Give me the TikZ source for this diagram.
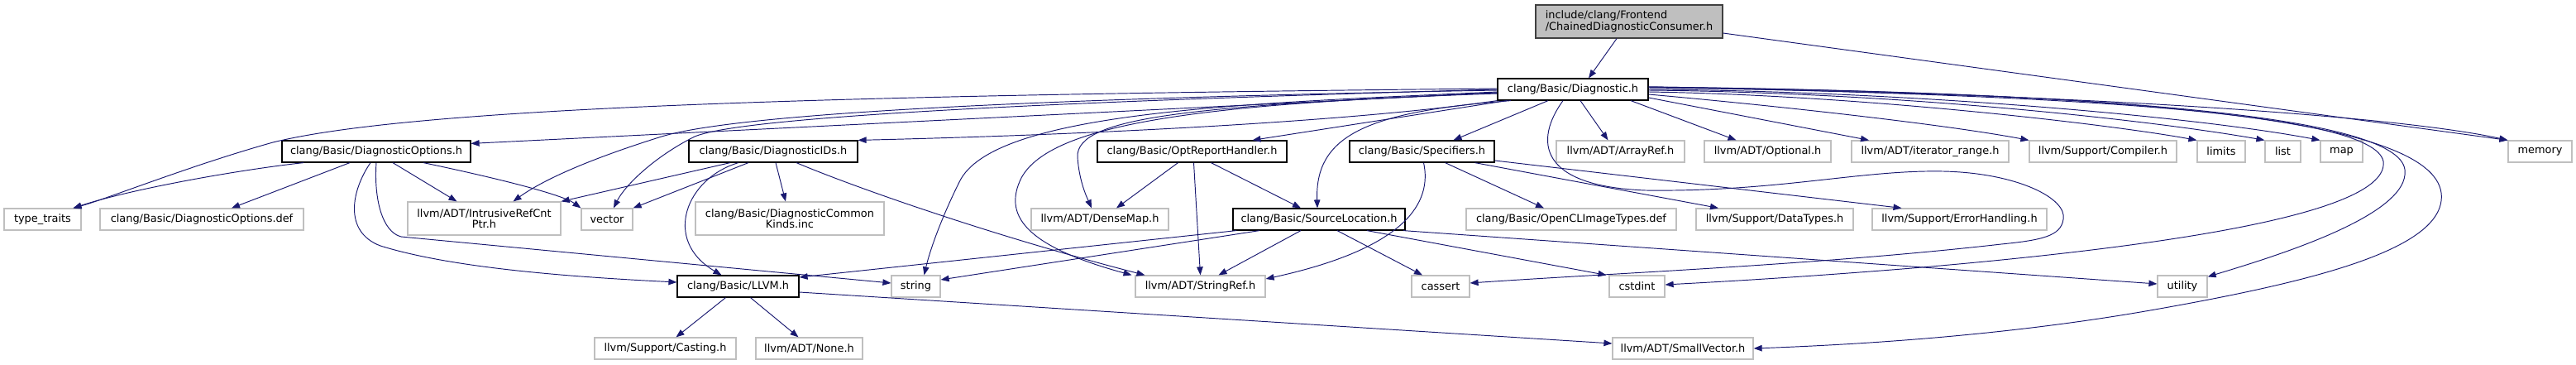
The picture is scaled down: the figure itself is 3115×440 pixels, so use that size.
\documentclass[tikz,border=0pt]{standalone}
\usepackage{fontspec}
\setmainfont{DejaVu Sans}
\usepackage{xcolor}
\usetikzlibrary{arrows.meta}
\definecolor{edgeblue}{HTML}{191970}
\definecolor{boxgray}{HTML}{BFBFBF}
\definecolor{darkborder}{HTML}{404040}
\tikzset{
every node/.style={font=\fontsize{12.9}{13.5}\selectfont, inner xsep=2pt, inner ysep=0pt, minimum height=26pt},
mainnode/.style={draw=darkborder, fill=boxgray, line width=1.2pt, minimum height=40pt},
localnode/.style={draw=black, fill=white, line width=1.2pt},
extnode/.style={draw=boxgray, fill=white, line width=1.2pt},
dep/.style={draw=edgeblue, line width=0.95pt, -{Triangle[length=10pt,width=7.5pt]}}
}

\begin{document}
\begin{tikzpicture}[x=1pt,y=-1pt]
\useasboundingbox (0,0) rectangle (3115,440);
\node[mainnode, minimum width=226pt, align=left] (main) at (1970,26) {include/clang/Frontend\\/ChainedDiagnosticConsumer.h};
\node[localnode, minimum width=182pt] (diag) at (1902,108) {clang/Basic/Diagnostic.h};

\node[localnode, minimum width=228pt] (dopt) at (455,183) {clang/Basic/DiagnosticOptions.h};
\node[localnode, minimum width=204pt] (dids) at (935,183) {clang/Basic/DiagnosticIDs.h};
\node[localnode, minimum width=229pt] (optrep) at (1441.5,183) {clang/Basic/OptReportHandler.h};
\node[localnode, minimum width=175pt] (spec) at (1719.5,183) {clang/Basic/Specifiers.h};
\node[extnode, minimum width=155pt] (arrayref) at (1959.5,183) {llvm/ADT/ArrayRef.h};
\node[extnode, minimum width=153pt] (optional) at (2137.5,183) {llvm/ADT/Optional.h};
\node[extnode, minimum width=190pt] (iterrange) at (2334,183) {llvm/ADT/iterator\_range.h};
\node[extnode, minimum width=178pt] (compiler) at (2543,183) {llvm/Support/Compiler.h};
\node[extnode, minimum width=58pt] (limits) at (2686,183) {limits};
\node[extnode, minimum width=43pt] (list) at (2760.5,183) {list};
\node[extnode, minimum width=51pt] (map) at (2831.5,183) {map};
\node[extnode, minimum width=77pt] (memory) at (3071.5,183) {memory};

\node[extnode, minimum width=93pt] (tt) at (51.5,265) {type\_traits};
\node[extnode, minimum width=246pt] (doptdef) at (244,265) {clang/Basic/DiagnosticOptions.def};
\node[extnode, minimum width=185pt, minimum height=40pt, align=center] (irc) at (585.5,264) {llvm/ADT/IntrusiveRefCnt\\Ptr.h};
\node[extnode, minimum width=62pt] (vector) at (734,265) {vector};
\node[extnode, minimum width=228pt, minimum height=40pt, align=center] (dck) at (955,264) {clang/Basic/DiagnosticCommon\\Kinds.inc};
\node[extnode, minimum width=166pt] (densemap) at (1330,265) {llvm/ADT/DenseMap.h};
\node[localnode, minimum width=208pt] (srcloc) at (1595,265) {clang/Basic/SourceLocation.h};
\node[extnode, minimum width=254pt] (opencl) at (1900,265) {clang/Basic/OpenCLImageTypes.def};
\node[extnode, minimum width=190pt] (datatypes) at (2146,265) {llvm/Support/DataTypes.h};
\node[extnode, minimum width=211pt] (errh) at (2369.5,265) {llvm/Support/ErrorHandling.h};

\node[localnode, minimum width=147pt] (llvm) at (892.5,346) {clang/Basic/LLVM.h};
\node[extnode, minimum width=59pt] (string) at (1107.5,346) {string};
\node[extnode, minimum width=157pt] (stringref) at (1451.5,346) {llvm/ADT/StringRef.h};
\node[extnode, minimum width=70pt] (cassert) at (1742,346) {cassert};
\node[extnode, minimum width=67pt] (cstdint) at (1979.5,346) {cstdint};
\node[extnode, minimum width=60pt] (utility) at (2639,346) {utility};

\node[extnode, minimum width=171pt] (casting) at (804.5,421) {llvm/Support/Casting.h};
\node[extnode, minimum width=129pt] (none) at (978.5,421) {llvm/ADT/None.h};
\node[extnode, minimum width=170pt] (smallvec) at (2035,421) {llvm/ADT/SmallVector.h};

\draw[dep] ([xshift=-15pt]main.south) -- ([xshift=19pt]diag.north);
\draw[dep] ([yshift=-14pt]main.east) -- (memory.north west);

\draw[dep] ([yshift=1pt]diag.west) .. controls (1000,115) and (500,130) .. (330,172) .. controls (230,200) and (130,240) .. ([xshift=37pt]tt.north);
\draw[dep] ([yshift=-4pt]diag.west) -- ([yshift=-4pt]dopt.north east);
\draw[dep] ([yshift=-1pt]diag.west) .. controls (1300,118) and (900,135) .. (800,165) .. controls (720,190) and (660,215) .. ([xshift=35pt]irc.north);
\draw[dep] (diag.west) .. controls (1300,122) and (900,140) .. (840,165) .. controls (790,190) and (755,225) .. ([xshift=8pt]vector.north);
\draw[dep] (diag.south west) .. controls (1650,145) and (1350,162) .. (dids.north east);
\draw[dep] ([yshift=-3pt]diag.west) .. controls (1500,125) and (1200,135) .. (1160,220) .. controls (1140,260) and (1125,300) .. ([xshift=10pt]string.north);
\draw[dep] ([yshift=-5pt]diag.west) .. controls (1450,125) and (1270,150) .. (1235,215) .. controls (1210,265) and (1250,300) .. ([xshift=-83pt]stringref.north);
\draw[dep] ([yshift=-4pt]diag.west) .. controls (1450,128) and (1300,140) .. (1303,190) .. controls (1305,220) and (1315,240) .. ([xshift=-10pt]densemap.north);
\draw[dep] ([xshift=-80pt]diag.south) -- ([xshift=73pt]optrep.north);
\draw[dep] ([xshift=-75pt]diag.south) .. controls (1650,135) and (1590,165) .. ([xshift=-2pt]srcloc.north);
\draw[dep] ([xshift=-30pt]diag.south) -- ([xshift=38pt]spec.north);
\draw[dep] ([xshift=9pt]diag.south) -- ([xshift=-15pt]arrayref.north);
\draw[dep] ([xshift=70pt]diag.south) -- ([xshift=-38pt]optional.north);
\draw[dep] ([yshift=-10pt]diag.east) -- ([xshift=-74pt]iterrange.north);
\draw[dep] ([yshift=-6pt]diag.east) .. controls (2150,128) and (2350,150) .. (compiler.north west);
\draw[dep] ([yshift=-3pt]diag.east) .. controls (2250,115) and (2550,150) .. (limits.north west);
\draw[dep] ([yshift=-1pt]diag.east) .. controls (2300,112) and (2600,145) .. (list.north west);
\draw[dep] (diag.east) .. controls (2300,110) and (2650,140) .. (map.north west);
\draw[dep] ([yshift=2pt]diag.east) .. controls (2500,112) and (2900,140) .. (memory.north west);
\draw[dep] ([yshift=3pt]diag.east) .. controls (2500,115) and (2870,135) .. (2882,195) .. controls (2890,260) and (2600,300) .. (2300,325) .. controls (2150,337) and (2050,342) .. ([yshift=2pt]cstdint.east);
\draw[dep] ([yshift=3pt]diag.east) .. controls (2550,112) and (2900,140) .. (2908,205) .. controls (2915,260) and (2750,310) .. ([yshift=-2pt]utility.north east);
\draw[dep] ([yshift=3pt]diag.east) .. controls (2600,112) and (2940,145) .. (2952,233) .. controls (2960,300) and (2800,340) .. (2600,375) .. controls (2400,410) and (2200,418) .. (smallvec.east);
\draw[dep] ([xshift=-12pt]diag.south) .. controls (1855,170) and (1860,225) .. (1990,230) .. controls (2150,232) and (2250,205) .. (2350,207) .. controls (2440,209) and (2500,240) .. (2495,265) .. controls (2492,285) and (2470,290) .. (2420,295) .. controls (2200,320) and (1950,330) .. ([yshift=4pt]cassert.east);

\draw[dep] ([xshift=-88pt]dopt.south) .. controls (290,205) and (160,228) .. ([xshift=37pt]tt.north);
\draw[dep] ([xshift=-32pt]dopt.south) -- ([xshift=36pt]doptdef.north);
\draw[dep] ([xshift=20pt]dopt.south) -- ([xshift=-33pt]irc.north);
\draw[dep] ([xshift=57pt]dopt.south) .. controls (600,215) and (680,235) .. (vector.north west);
\draw[dep] ([xshift=-7pt]dopt.south) .. controls (425,230) and (415,280) .. (460,297) .. controls (550,325) and (700,335) .. ([yshift=5pt]llvm.west);
\draw[dep] (dopt.south) .. controls (452,240) and (462,280) .. (485,286) -- ([yshift=4pt]string.west);

\draw[dep] ([xshift=-52pt]dids.south) -- (irc.north east);
\draw[dep] ([xshift=-30pt]dids.south) -- (vector.north east);
\draw[dep] ([xshift=3pt]dids.south) -- ([xshift=-5pt]dck.north);
\draw[dep] ([xshift=-42pt]dids.south) .. controls (830,215) and (800,290) .. ([xshift=-20pt]llvm.north);
\draw[dep] ([xshift=28pt]dids.south) .. controls (1030,225) and (1200,285) .. ([xshift=-67pt]stringref.north);

\draw[dep] ([xshift=-17pt]optrep.south) -- ([xshift=20pt]densemap.north);
\draw[dep] ([xshift=2pt]optrep.south) -- (stringref.north);
\draw[dep] ([xshift=23pt]optrep.south) -- ([xshift=-22pt]srcloc.north);

\draw[dep] ([xshift=2pt]spec.south) .. controls (1732,245) and (1700,300) .. ([yshift=9pt]stringref.east);
\draw[dep] ([xshift=28pt]spec.south) -- ([xshift=-33pt]opencl.north);
\draw[dep] ([xshift=64pt]spec.south) -- ([xshift=-68pt]datatypes.north);
\draw[dep] ([yshift=-11pt]spec.east) -- ([xshift=-70pt]errh.north);

\draw[dep] ([xshift=-100pt]srcloc.south) -- ([yshift=11pt]llvm.east);
\draw[dep] ([xshift=-72pt]srcloc.south) -- ([yshift=8pt]string.east);
\draw[dep] ([xshift=-22pt]srcloc.south) -- ([xshift=22pt]stringref.north);
\draw[dep] ([xshift=22pt]srcloc.south) -- ([xshift=-22pt]cassert.north);
\draw[dep] ([xshift=58pt]srcloc.south) -- ([xshift=-37pt]cstdint.north);
\draw[dep] ([xshift=102pt]srcloc.south) -- ([yshift=3pt]utility.west);

\draw[dep] ([xshift=-15pt]llvm.south) -- ([xshift=13pt]casting.north);
\draw[dep] ([xshift=15pt]llvm.south) -- ([xshift=-13pt]none.north);
\draw[dep] ([yshift=-7pt]llvm.east) -- ([yshift=6pt]smallvec.west);
\end{tikzpicture}
\end{document}
